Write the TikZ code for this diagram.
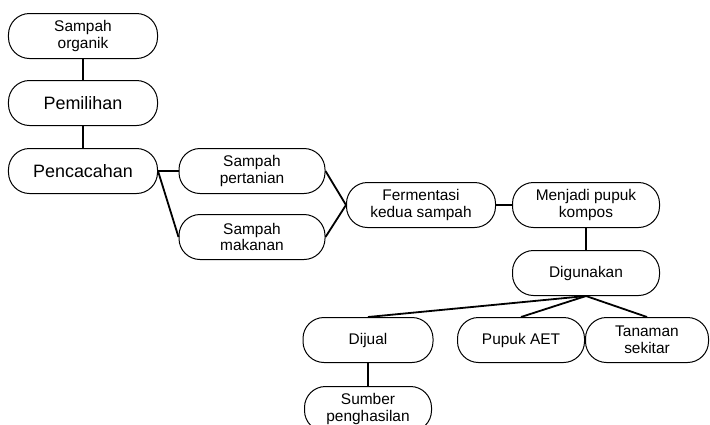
\documentclass[tikz,border=0pt]{standalone}
\usepackage{fontspec}
\setmainfont{Liberation Sans}
\usepackage{tikz}
\newcommand{\boxHeight}{45}
\newcommand{\smallText}{\fontsize{15.5}{17}\selectfont}
\newcommand{\largeText}{\fontsize{18}{20}\selectfont}
\tikzset{
	stepBox/.style={draw, line width=1bp, rounded corners=21bp, minimum height=\boxHeight bp, inner sep=0pt, align=center, font=\smallText},
	link/.style={line width=1.8bp}
}

\begin{document}
\begin{tikzpicture}[x=1bp,y=-1bp]
	\useasboundingbox (0,0) rectangle (710,424);
	
	\node[stepBox, minimum width=149bp, font=\largeText] (pemilihan) at (83,103) {Pemilihan};
	\node[stepBox, minimum width=149bp, font=\largeText] (pencacahan) at (83,171) {Pencacahan};
	% name/x/y/width/text
	\foreach \boxName/\x/\y/\w/\boxText in {organik/83/36/149/Sampah\\organik, pertanian/252/171/146/Sampah\\pertanian, makanan/252/237/146/Sampah\\makanan, fermentasi/421/205/149/Fermentasi\\kedua sampah, kompos/586/205/147/Menjadi pupuk\\kompos, digunakan/586/273/147/Digunakan, dijual/368/340/130/Dijual, pupukAet/521/340/127/Pupuk AET, tanaman/647/340/123/Tanaman\\sekitar, sumber/368/409/127/Sumber\\penghasilan}
	{
		\node[stepBox, minimum width=\w bp] (\boxName) at (\x,\y) {\boxText};
	}
	
	\foreach \from/\to in {organik.south/pemilihan.north, pemilihan.south/pencacahan.north, pencacahan.east/pertanian.west, pencacahan.east/makanan.west, pertanian.east/fermentasi.west, makanan.east/fermentasi.west, fermentasi.east/kompos.west, kompos.south/digunakan.north, digunakan.south/dijual.north, digunakan.south/pupukAet.north, digunakan.south/tanaman.north, dijual.south/sumber.north}
	{
		\draw[link] (\from) -- (\to);
	}
\end{tikzpicture}
\end{document}
